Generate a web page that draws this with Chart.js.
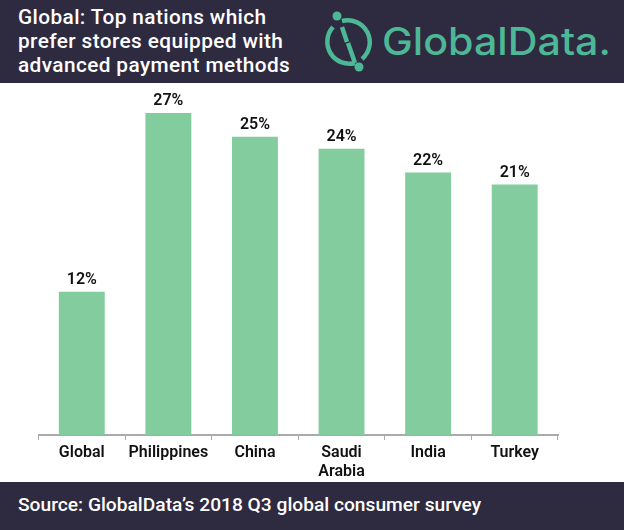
<!DOCTYPE html>
<html>
<head>
<meta charset="utf-8">
<script src="https://cdn.jsdelivr.net/npm/chart.js@4"></script>
<style>
  html, body { margin: 0; padding: 0; background: #fff; }
  body { width: 624px; height: 530px; position: relative; overflow: hidden; font-family: Roboto, sans-serif; }
  #chart { position: absolute; left: 0; top: 0; }
  .band { position: absolute; left: 0; width: 624px; background: #2e2a40; color: #fff; font-weight: 500; }
  #header { top: 0; height: 83px; }
  #title { position: absolute; left: 18px; top: 5px; font-size: 20.8px; line-height: 24px; letter-spacing: 0.4px; white-space: nowrap; }
  #logo { position: absolute; left: 320px; top: 0; }
  #footer { top: 482px; height: 48px; }
  #source { position: absolute; left: 18px; top: 12px; font-size: 19.2px; line-height: 22px; white-space: nowrap; }
</style>
</head>
<body>
<canvas id="chart" width="624" height="530"></canvas>
<div id="header" class="band">
  <div id="title">Global: Top nations which<br>prefer stores equipped with<br>advanced payment methods</div>
  <svg id="logo" width="304" height="83" viewBox="0 0 304 83">
    <g fill="none" stroke="#4cb896" stroke-width="4.5">
      <path d="M 13 27 A 22 22 0 0 0 35 63" />
      <path d="M 22 21 A 22 22 0 0 1 42 59" />
      <path d="M 22 27 L 27 42" />
      <path d="M 28 43 L 35 63" />
    </g>
    <circle cx="17" cy="16" r="4.5" fill="#4cb896" />
    <circle cx="39" cy="67" r="4.5" fill="#4cb896" />
    <text x="62" y="55" fill="#4cb896" font-family="Inter" font-size="38" font-weight="500" textLength="229" lengthAdjust="spacingAndGlyphs">GlobalData.</text>
  </svg>
</div>
<div id="footer" class="band">
  <div id="source">Source: GlobalData’s 2018 Q3 global consumer survey</div>
</div>
<script>
const categories = ['Global', 'Philippines', 'China', ['Saudi', 'Arabia'], 'India', 'Turkey'];
const shares = [12, 27, 25, 24, 22, 21];
const yMax = 28;

const barLabels = {
  id: 'barLabels',
  afterDatasetsDraw(chart) {
    const ctx = chart.ctx;
    const meta = chart.getDatasetMeta(0);
    ctx.save();
    ctx.font = '600 16px Roboto';
    ctx.fillStyle = '#111';
    ctx.textAlign = 'center';
    ctx.textBaseline = 'alphabetic';
    meta.data.forEach((bar, i) => {
      ctx.fillText(shares[i] + '%', bar.x, bar.y - 8);
    });
    ctx.restore();
  }
};

new Chart(document.getElementById('chart'), {
  type: 'bar',
  data: {
    labels: categories,
    datasets: [{
      data: shares,
      backgroundColor: '#82cc9e',
      barPercentage: 0.53,
      categoryPercentage: 1
    }]
  },
  options: {
    responsive: false,
    animation: false,
    layout: { padding: { left: 38.5, right: 66, top: 101, bottom: 0 } },
    plugins: { legend: { display: false }, tooltip: { enabled: false } },
    scales: {
      x: {
        afterFit(scale) { scale.height = 95; },
        border: { color: '#aaaaaa', width: 2 },
        grid: { drawOnChartArea: false, color: '#aaaaaa', tickLength: 5, offset: true },
        ticks: {
          color: '#111',
          font: { family: 'Roboto', size: 16, weight: '600', lineHeight: 1.15 },
          padding: 4,
          maxRotation: 0,
          autoSkip: false
        }
      },
      y: { display: false, min: 0, max: yMax }
    }
  },
  plugins: [barLabels]
});
</script>
</body>
</html>
